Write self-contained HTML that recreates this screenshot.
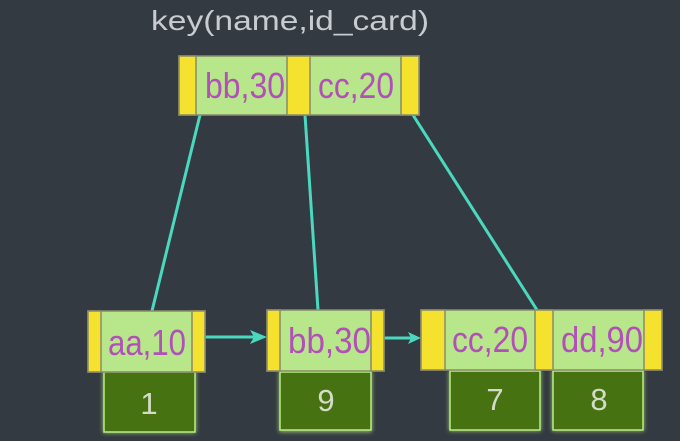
<!DOCTYPE html>
<html><head><meta charset="utf-8"><style>
html,body{margin:0;padding:0;background:#343a42;}
svg{display:block}
</style></head><body>
<svg width="680" height="441" viewBox="0 0 680 441" xmlns="http://www.w3.org/2000/svg">
<rect width="680" height="441" fill="#343a42"/>
<defs>
<filter id="glow" x="-20%" y="-20%" width="140%" height="140%"><feGaussianBlur stdDeviation="2"/></filter>
</defs>
<text x="151" y="30" font-family="Liberation Sans, sans-serif" font-size="28" fill="#c8ccd0" textLength="278" lengthAdjust="spacingAndGlyphs">key(name,id_card)</text>
<g stroke="#4ad8be" stroke-width="3" fill="none">
<line x1="200" y1="115" x2="152" y2="311"/>
<line x1="305" y1="115" x2="318" y2="310"/>
<line x1="413" y1="115" x2="537" y2="310"/>
<line x1="205" y1="337" x2="256" y2="337"/>
<line x1="384" y1="338" x2="412" y2="338"/>
</g>
<polygon points="267,337 250,330 254,337 250,344" fill="#4ad8be"/>
<polygon points="421,338 408,332 411,338 408,344" fill="#4ad8be"/>
<g fill="#a8e070" filter="url(#glow)" opacity="0.8">
<rect x="103" y="371" width="93" height="62"/><rect x="279" y="371" width="93" height="61"/>
<rect x="449" y="370" width="92" height="61"/><rect x="552" y="370" width="92" height="61"/>
</g>
<g fill="#467212" stroke="#b8ec88" stroke-width="1.5">
<rect x="104" y="372" width="91" height="60"/><rect x="280" y="372" width="91" height="58"/>
<rect x="450" y="371" width="90" height="59"/><rect x="553" y="371" width="90" height="59"/>
</g>
<g font-family="Liberation Sans, sans-serif" font-size="31" fill="#d4dcc8" text-anchor="middle">
<text x="149" y="414">1</text><text x="326" y="411">9</text><text x="495" y="410">7</text><text x="599" y="410">8</text>
</g>
<g stroke="#8a8a6a" stroke-width="1.5">
<rect x="179" y="56" width="240" height="59" fill="#b8e68a"/>
<rect x="179" y="56" width="17" height="59" fill="#f5e22e"/>
<rect x="287" y="56" width="23" height="59" fill="#f5e22e"/>
<rect x="401" y="56" width="18" height="59" fill="#f5e22e"/>
<rect x="88" y="311" width="117" height="61" fill="#b8e68a"/>
<rect x="88" y="311" width="13" height="61" fill="#f5e22e"/>
<rect x="192" y="311" width="13" height="61" fill="#f5e22e"/>
<rect x="267" y="310" width="117" height="61" fill="#b8e68a"/>
<rect x="267" y="310" width="13" height="61" fill="#f5e22e"/>
<rect x="371" y="310" width="13" height="61" fill="#f5e22e"/>
<rect x="421" y="310" width="241" height="60" fill="#b8e68a"/>
<rect x="421" y="310" width="24" height="60" fill="#f5e22e"/>
<rect x="535" y="310" width="18" height="60" fill="#f5e22e"/>
<rect x="644" y="310" width="18" height="60" fill="#f5e22e"/>
</g>
<g font-family="Liberation Sans, sans-serif" font-size="36" fill="#b050b8">
<text x="205" y="98" textLength="80" lengthAdjust="spacingAndGlyphs">bb,30</text>
<text x="318" y="98" textLength="76" lengthAdjust="spacingAndGlyphs">cc,20</text>
<text x="108" y="355" textLength="78" lengthAdjust="spacingAndGlyphs">aa,10</text>
<text x="288" y="353" textLength="83" lengthAdjust="spacingAndGlyphs">bb,30</text>
<text x="452" y="352" textLength="76" lengthAdjust="spacingAndGlyphs">cc,20</text>
<text x="561" y="352" textLength="82" lengthAdjust="spacingAndGlyphs">dd,90</text>
</g>
</svg>
</body></html>
